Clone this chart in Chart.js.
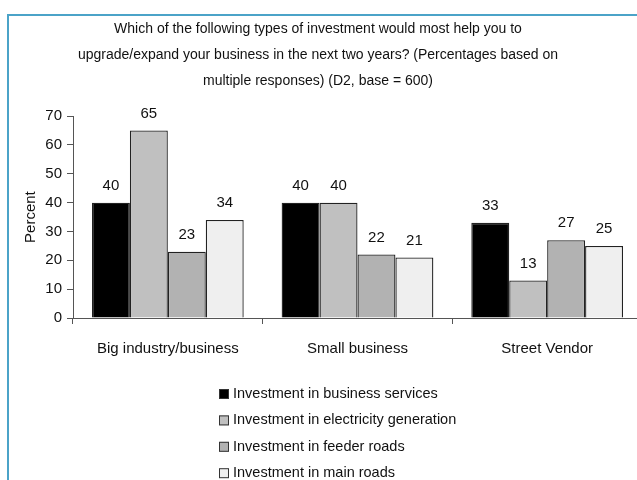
<!DOCTYPE html>
<html>
<head>
<meta charset="utf-8">
<script src="https://cdn.jsdelivr.net/npm/chart.js@4"></script>
<style>
  html, body { margin: 0; padding: 0; background: #fff; overflow: hidden; }
  #page { position: relative; width: 637px; height: 480px; overflow: hidden; }
  #frame { position: absolute; left: 7px; top: 14px; width: 660px; height: 500px;
           border-left: 2px solid #4ba3c8; border-top: 2px solid #4ba3c8; }
  #wrap { position: absolute; left: -6px; top: 0; width: 650px; height: 480px; }
</style>
</head>
<body>
<div id="page">
  <div id="frame"></div>
  <div id="wrap"><canvas id="chart"></canvas></div>
</div>
<script>
const categories = ['Big industry/business', 'Small business', 'Street Vendor'];
const seriesNames = [
    'Investment in business services',
    'Investment in electricity generation',
    'Investment in feeder roads',
    'Investment in main roads'
];
const businessServices = [40, 40, 33];
const electricityGeneration = [65, 40, 13];
const feederRoads = [23, 22, 27];
const mainRoads = [34, 21, 25];
const yTicks = [0, 10, 20, 30, 40, 50, 60, 70];

const titleLines = [
    'Which of the following types of investment would most help you to',
    'upgrade/expand your business in the next two years? (Percentages based on',
    'multiple responses) (D2, base = 600)'
];

const FONT = "'Liberation Sans', Arial, sans-serif";
const fills = ['#000000', '#c0c0c0', '#b2b2b2', '#efefef'];

// value labels above bars
const valueLabels = {
    id: 'valueLabels',
    afterDatasetsDraw(chart) {
        const ctx = chart.ctx;
        ctx.save();
        ctx.font = '15px ' + FONT;
        ctx.fillStyle = '#111';
        ctx.textAlign = 'center';
        ctx.textBaseline = 'middle';
        chart.data.datasets.forEach((ds, i) => {
            chart.getDatasetMeta(i).data.forEach((bar, j) => {
                ctx.fillText(String(ds.data[j]), bar.x, bar.y - 17);
            });
        });
        ctx.restore();
    }
};

// vertical legend under the chart
const stackedLegend = {
    id: 'stackedLegend',
    afterDraw(chart) {
        const ctx = chart.ctx;
        ctx.save();
        ctx.font = '14.5px ' + FONT;
        ctx.textBaseline = 'middle';
        chart.data.datasets.forEach((ds, i) => {
            const y = 394 + i * 26.4;
            const x = 225;
            ctx.fillStyle = ds.backgroundColor;
            ctx.fillRect(x, y - 5, 10, 10);
            ctx.strokeStyle = '#333';
            ctx.lineWidth = 1;
            ctx.strokeRect(x + 0.5, y - 4.5, 9, 9);
            ctx.fillStyle = '#111';
            ctx.fillText(ds.label, x + 14, y);
        });
        ctx.restore();
    }
};

const seriesData = [businessServices, electricityGeneration, feederRoads, mainRoads];

new Chart(document.getElementById('chart'), {
    type: 'bar',
    data: {
        labels: categories,
        datasets: seriesNames.map((name, i) => ({
            label: name,
            data: seriesData[i],
            backgroundColor: fills[i],
            borderColor: '#222',
            borderWidth: 1.3,
            borderSkipped: 'bottom',
            categoryPercentage: 0.8,
            barPercentage: 1.0
        }))
    },
    options: {
        responsive: true,
        maintainAspectRatio: false,
        animation: false,
        layout: { padding: { left: 0, right: 2, top: 0, bottom: 0 } },
        plugins: {
            legend: { display: false },
            tooltip: { enabled: false },
            title: {
                display: true,
                text: titleLines,
                color: '#111',
                font: { family: FONT, size: 14, weight: 'normal', lineHeight: 1.86 },
                padding: { top: 16, bottom: 22 }
            }
        },
        scales: {
            x: {
                grid: { display: true, drawOnChartArea: false, drawTicks: true, tickLength: 6, color: '#555', offset: true },
                border: { display: true, color: '#555', width: 1 },
                ticks: { color: '#111', font: { family: FONT, size: 15 }, padding: 16, maxRotation: 0 },
                afterFit(scale) { scale.height = 162; }
            },
            y: {
                min: 0,
                max: 70,
                afterBuildTicks(scale) { scale.ticks = yTicks.map(v => ({ value: v })); },
                grid: { display: true, drawOnChartArea: false, drawTicks: true, tickLength: 6, color: '#555' },
                border: { display: true, color: '#555', width: 1 },
                ticks: { color: '#111', font: { family: FONT, size: 15 }, padding: 5 },
                title: { display: true, text: 'Percent', color: '#111', font: { family: FONT, size: 15 }, padding: { top: 28, bottom: 0 } },
                afterFit(scale) { scale.width = 79; }
            }
        }
    },
    plugins: [valueLabels, stackedLegend]
});
</script>
</body>
</html>
